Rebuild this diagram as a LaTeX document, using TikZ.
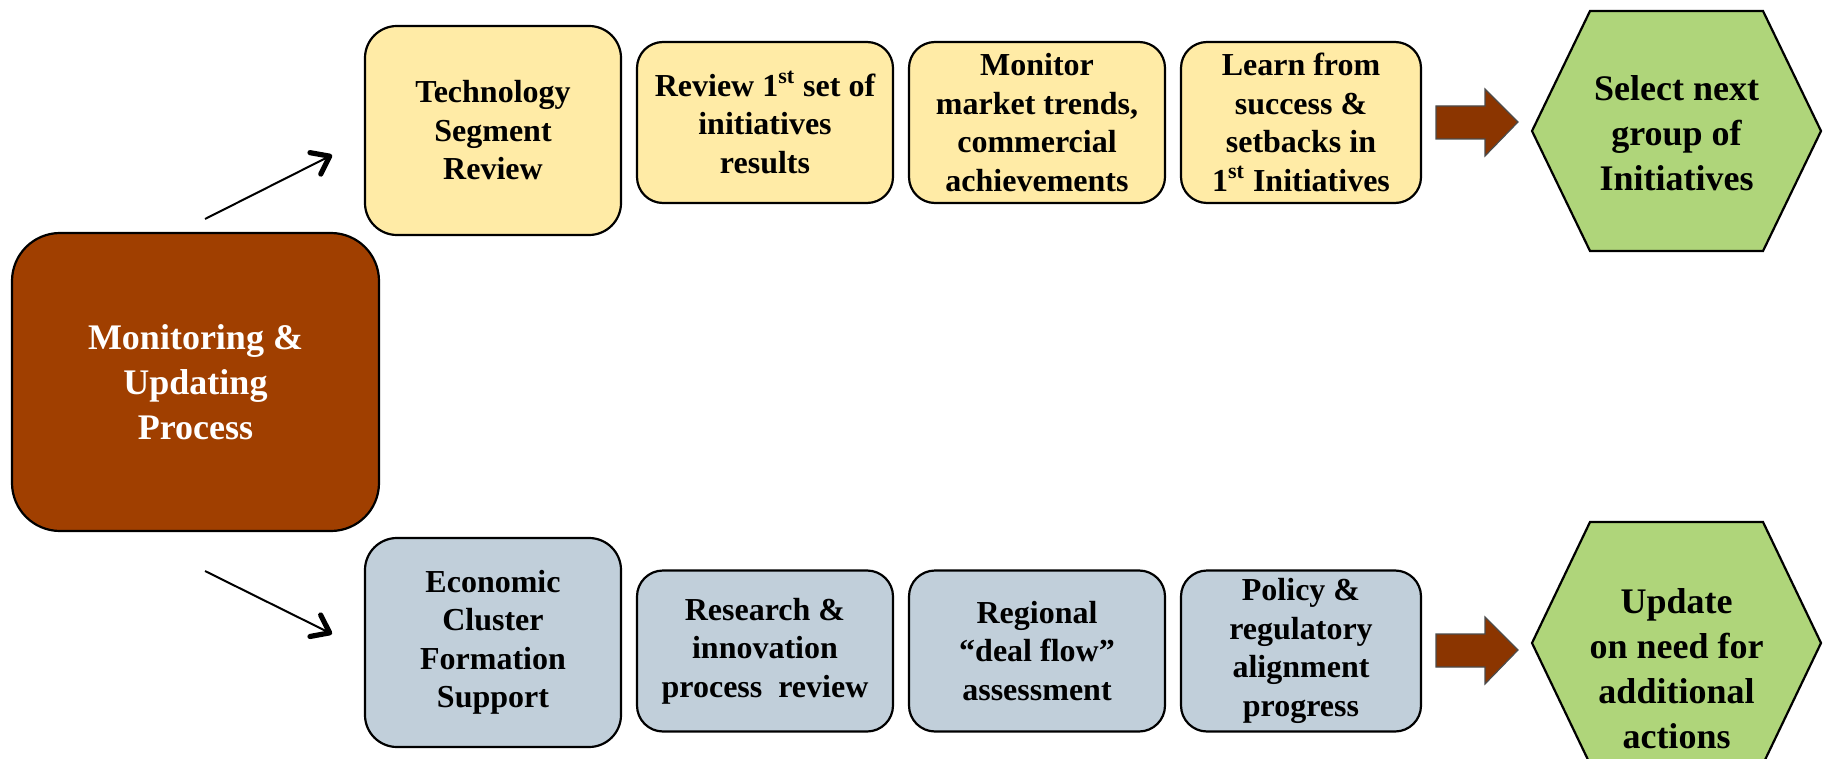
\documentclass[tikz,border=0pt]{standalone}
\usepackage{fontspec}
\setmainfont{Liberation Serif}
\usetikzlibrary{arrows.meta}
\definecolor{procbrown}{HTML}{A03F00}
\definecolor{arrowbrown}{HTML}{8B3500}
\definecolor{techyellow}{HTML}{FFEBA6}
\definecolor{ecoblue}{HTML}{C1CFDA}
\definecolor{nextgreen}{HTML}{AFD57A}
\tikzset{
	stage/.style={
			draw=black, line width=1.1pt, rounded corners=13pt,
			align=center, inner sep=0pt,
			minimum width=128pt, minimum height=80.5pt,
			font=\bfseries\fontsize{16}{19.25}\selectfont
		},
	segment/.style={stage, rounded corners=16pt, minimum height=104.5pt},
	narrow/.style={minimum width=120pt},
	tech/.style={fill=techyellow},
	eco/.style={fill=ecoblue},
	process/.style={
			draw=black, line width=1.1pt, fill=procbrown, rounded corners=24pt,
			minimum width=183.5pt, minimum height=149pt, inner sep=0pt,
			align=center, text=white,
			font=\bfseries\fontsize{18}{22.5}\selectfont
		},
	hexshape/.style={draw=black, line width=1.1pt, fill=nextgreen},
	hexlabel/.style={align=center, inner sep=0pt, font=\bfseries\fontsize{18}{22.5}\selectfont},
	blockarrow/.style={draw=black!70, line width=0.6pt, fill=arrowbrown},
	branch/.style={line width=1pt, -{Straight Barb[length=8pt,width=12pt,line width=2.6pt,round]}}
}
\newcommand{\ordsup}[1]{\textsuperscript{\fontsize{11}{11}\selectfont #1}}

\begin{document}
\begin{tikzpicture}[x=0.5pt,y=-0.5pt]
		\useasboundingbox (0,0) rectangle (1830,759);
		\node [process] (proc) at (195.5,382) {Monitoring \&\\Updating\\Process};
		\node [segment, tech] (techseg) at (493,130.5) {Technology\\Segment\\Review};
		\node [stage, tech] (review) at (765,122.5) {Review 1\ordsup{st} set of\\initiatives\\results};
		\node [stage, tech] (market) at (1037,122.5) {Monitor\\market trends,\\commercial\\achievements};
		\node [stage, tech, narrow] (learn) at (1301,122.5) {Learn from\\success \&\\setbacks in\\1\ordsup{st} Initiatives};
		\node [segment, eco] (cluster) at (493,642.5) {Economic\\Cluster\\Formation\\Support};
		\node [stage, eco] (research) at (765,651) {Research \&\\innovation\\process~ review};
		\node [stage, eco] (dealflow) at (1037,651) {Regional\\“deal flow”\\assessment};
		\node [stage, eco, narrow] (policy) at (1301,651) {Policy \&\\regulatory\\alignment\\progress};
		\filldraw [hexshape] (1532,131) -- (1590,11) -- (1763,11) -- (1821,131) -- (1763,251) -- (1590,251) -- cycle;
		\filldraw [hexshape] (1532,643) -- (1590,522) -- (1763,522) -- (1821,643) -- (1763,764) -- (1590,764) -- cycle;
		\node [hexlabel] (select) at (1676.5,133) {Select next\\group of\\Initiatives};
		\node [hexlabel] (update) at (1676.5,669) {Update\\on need for\\additional\\actions};
		\foreach \y in {122,650}
			\filldraw [blockarrow] (1436,\y-16) -- (1485,\y-16) -- (1485,\y-33) -- (1518,\y)
								-- (1485,\y+34) -- (1485,\y+17) -- (1436,\y+17) -- cycle;
		\coordinate (uptail) at (205,219);
		\coordinate (uphead) at (332,155);
		\coordinate (downtail) at (205,571);
		\coordinate (downhead) at (332,634);
		\draw [branch] (uptail) -- (uphead);
		\draw [branch] (downtail) -- (downhead);
	\end{tikzpicture}
\end{document}
